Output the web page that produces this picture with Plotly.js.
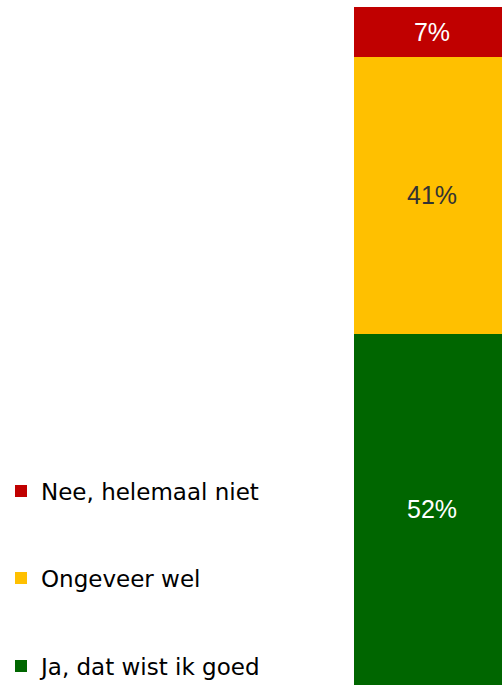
<!DOCTYPE html>
<html>
<head>
<meta charset="utf-8">
<script src="https://cdn.plot.ly/plotly-3.0.1.min.js"></script>
<style>
html,body{margin:0;padding:0;background:#fff;overflow:hidden;}
#chart{width:502px;height:685px;}
</style>
</head>
<body>
<div id="chart"></div>
<script>
var category = ["Totaal"];
var seriesNames = ["Ja, dat wist ik goed", "Ongeveer wel", "Nee, helemaal niet"];
var jaValues = [51.8];
var ongeveerValues = [40.8];
var neeValues = [7.4];
var jaLabels = ["52%"];
var ongeveerLabels = ["41%"];
var neeLabels = ["7%"];

var colors = ["#006600", "#FFC000", "#C00000"];
var textColors = ["#FFFFFF", "#333333", "#FFFFFF"];
var legendIds = ["legend3", "legend2", "legend"];

var vals = [jaValues, ongeveerValues, neeValues];
var labs = [jaLabels, ongeveerLabels, neeLabels];

var traces = seriesNames.map(function(name, i){
  return {
    type: "bar",
    name: name,
    x: category,
    y: vals[i],
    text: labs[i],
    texttemplate: "%{text}",
    textposition: "inside",
    insidetextanchor: "middle",
    textangle: 0,
    constraintext: "none",
    textfont: {family: "Liberation Sans, Arial, sans-serif", size: 25, color: textColors[i]},
    marker: {color: colors[i], line: {width: 0}},
    width: 1,
    hoverinfo: "skip",
    legend: legendIds[i]
  };
});

function legendAt(y){
  return {
    x: 1/502, xanchor: "left", y: y, yanchor: "middle",
    bgcolor: "rgba(0,0,0,0)", borderwidth: 0,
    font: {family: "DejaVu Sans, sans-serif", size: 23, color: "#000000"},
    itemclick: false, itemdoubleclick: false
  };
}

var layout = {
  width: 502, height: 685,
  margin: {l: 0, r: 0, t: 0, b: 0, pad: 0, autoexpand: false},
  paper_bgcolor: "#FFFFFF",
  plot_bgcolor: "#FFFFFF",
  barmode: "stack",
  showlegend: true,
  xaxis: {domain: [354/502, 1], range: [-0.5, 0.5 - 8/156], visible: false, fixedrange: true},
  yaxis: {range: [0, 100 * 685 / 678], visible: false, fixedrange: true},
  legend: legendAt(1 - 491/685),
  legend2: legendAt(1 - 578/685),
  legend3: legendAt(1 - 666/685)
};

Plotly.newPlot("chart", traces, layout, {staticPlot: true, displayModeBar: false});
</script>
</body>
</html>
